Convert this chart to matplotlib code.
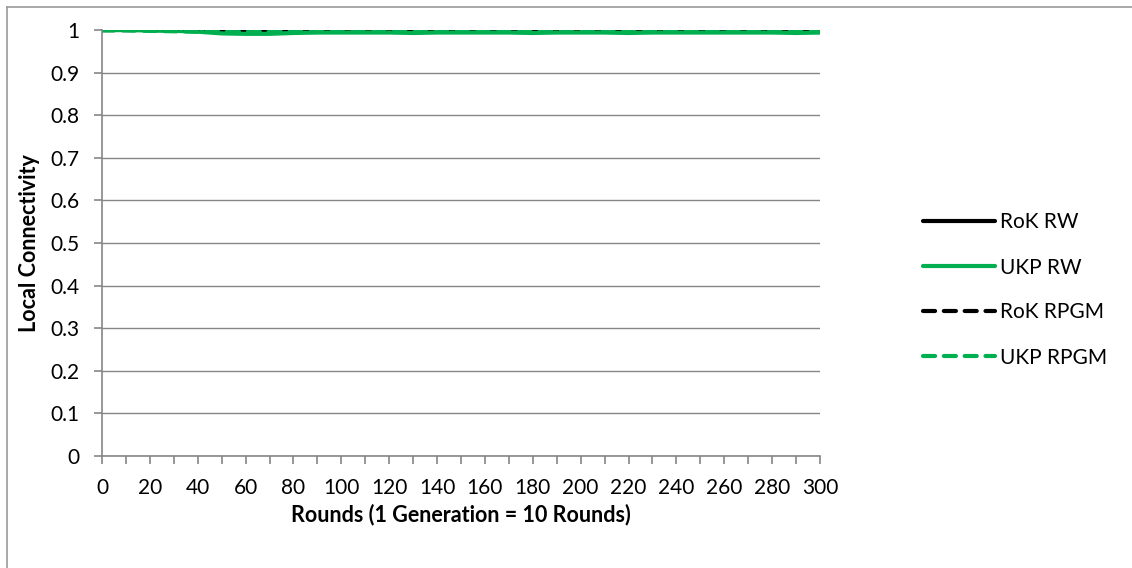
import numpy as np
import matplotlib
matplotlib.use("Agg")
import matplotlib.pyplot as plt
from matplotlib.lines import Line2D

plt.rcParams['font.family'] = ['Lato', 'DejaVu Sans']

# data, one value every 10 rounds
rounds = list(range(0, 301, 10))
rok_rw = [1.000, 1.000, 1.000, 0.999, 0.999, 0.998, 0.998, 0.998, 0.998, 0.998,
          0.998, 0.998, 0.998, 0.998, 0.998, 0.998, 0.998, 0.998, 0.998, 0.998,
          0.998, 0.998, 0.998, 0.998, 0.998, 0.998, 0.997, 0.998, 0.998, 0.998, 0.998]
ukp_rw = [1.000, 1.000, 0.999, 0.998, 0.996, 0.992, 0.991, 0.991, 0.993, 0.994,
          0.994, 0.994, 0.994, 0.993, 0.994, 0.994, 0.994, 0.994, 0.993, 0.994,
          0.994, 0.994, 0.993, 0.994, 0.994, 0.994, 0.994, 0.994, 0.994, 0.993, 0.994]
rok_rpgm = [1.000, 1.000, 1.000, 1.000, 1.000, 1.000, 1.000, 1.000, 1.000, 1.000,
            1.000, 1.000, 1.000, 1.000, 1.000, 1.000, 1.000, 1.000, 1.000, 1.000,
            1.000, 1.000, 1.000, 1.000, 1.000, 1.000, 0.999, 1.000, 1.000, 1.000, 1.000]
ukp_rpgm = [0.999, 0.999, 0.998, 0.997, 0.996, 0.996, 0.996, 0.996, 0.996, 0.996,
            0.996, 0.996, 0.996, 0.996, 0.996, 0.996, 0.996, 0.996, 0.996, 0.996,
            0.996, 0.996, 0.996, 0.996, 0.996, 0.996, 0.996, 0.996, 0.996, 0.996, 0.996]

dash = (0, (2.9, 2.1))
series = [("RoK RW", rok_rw, "black", "-"),
          ("UKP RW", ukp_rw, "#00b050", "-"),
          ("RoK RPGM", rok_rpgm, "black", dash),
          ("UKP RPGM", ukp_rpgm, "#00b050", dash)]

W, H = 1132, 568
fig = plt.figure(figsize=(W / 100, H / 100), dpi=100)
ax = fig.add_axes([102 / W, 1 - 456 / H, (820 - 102) / W, (456 - 30) / H])

grid_c = "#868686"
for name, vals, col, ls in series:
    ax.plot(rounds, vals, color=col, linestyle=ls, linewidth=3,
            dash_capstyle="round", solid_capstyle="round", label=name)

ax.set_xlim(0, 300)
ax.set_ylim(0, 1)
ax.set_yticks(np.arange(0, 1.01, 0.1))
ax.set_yticklabels(["0", "0.1", "0.2", "0.3", "0.4", "0.5", "0.6", "0.7", "0.8", "0.9", "1"])
ax.set_xticks(range(0, 301, 20))
ax.set_xticks(range(0, 301, 10), minor=True)
ax.yaxis.grid(True, color=grid_c, linewidth=1)
ax.set_axisbelow(True)
for s in ["top", "right"]:
    ax.spines[s].set_visible(False)
for s in ["left", "bottom"]:
    ax.spines[s].set_color(grid_c)
    ax.spines[s].set_linewidth(1.2)
ax.tick_params(axis="both", which="both", color=grid_c, length=6, width=1.2,
               labelsize=15, pad=10)
ax.tick_params(axis="x", pad=10)

ax.set_xlabel("Rounds (1 Generation = 10 Rounds)", fontsize=15.5, fontweight="bold", labelpad=4)
ax.set_ylabel("Local Connectivity", fontsize=15.5, fontweight="bold", labelpad=8)

ax.legend(loc="center left", bbox_to_anchor=(923 / W, 1 - 290 / H),
          bbox_transform=fig.transFigure, frameon=False, fontsize=15,
          handlelength=3.46, handletextpad=0.25, labelspacing=1.2,
          borderpad=0, borderaxespad=0)

# chart-area border (only top and left visible in the crop)
border_c = "#9a9a9a"
fig.add_artist(Line2D([7 / W, 7 / W], [0, 1 - 7 / H], transform=fig.transFigure,
                      color=border_c, linewidth=1.2))
fig.add_artist(Line2D([7 / W, 1], [1 - 7 / H, 1 - 7 / H], transform=fig.transFigure,
                      color=border_c, linewidth=1.2))

fig.savefig("out.png", dpi=100)
